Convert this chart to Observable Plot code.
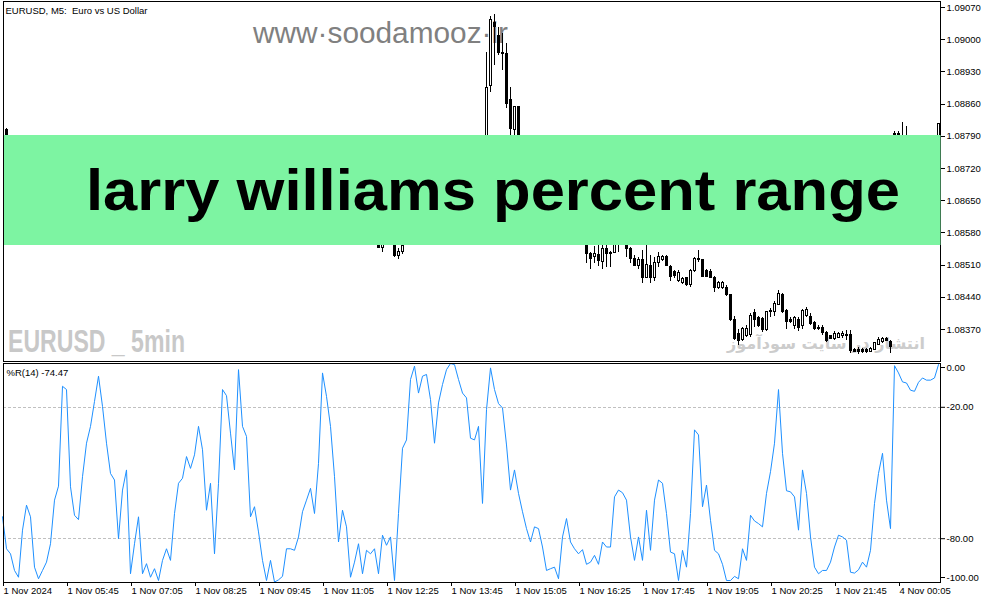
<!DOCTYPE html>
<html><head><meta charset="utf-8">
<script src="https://cdn.jsdelivr.net/npm/d3@7"></script>
<script src="https://cdn.jsdelivr.net/npm/@observablehq/plot@0.6"></script>
<style>
body{margin:0;background:#fff;}
#wrap{position:relative;width:994px;height:603px;overflow:hidden;background:#fff;font-family:"Liberation Sans",Arial,sans-serif;}
#wrap > *{position:absolute;left:0;}
</style></head><body><div id="wrap"></div>
<script>
// ---- data ----
const chartTitle = "EURUSD, M5:\u00a0 Euro vs US Dollar";
const indicatorTitle = "%R(14) -74.47";
const bannerText = "larry williams percent range";
const siteText = "www·soodamooz·ir";
const symbolText = "EURUSD _ 5min";
const persianText = "انتشار در سایت سودآموز";

const priceTicks = [1.09070,1.09000,1.08930,1.08860,1.08790,1.08720,1.08650,1.08580,1.08510,1.08440,1.08370];
const wprTicks = [0,-20,-80,-100];
const wprLevels = [-20,-80];
const timeTickBars = [0,16,32,48,64,80,96,112,128,144,160,176,192,208,224];
const timeTickLabels = ["1 Nov 2024","1 Nov 05:45","1 Nov 07:05","1 Nov 08:25","1 Nov 09:45","1 Nov 11:05","1 Nov 12:25","1 Nov 13:45","1 Nov 15:05","1 Nov 16:25","1 Nov 17:45","1 Nov 19:05","1 Nov 20:25","1 Nov 21:45","4 Nov 00:05"];

const candleBar   = [1,91,94,95,96,97,98,99,100,121,122,123,124,125,126,127,128,129,146,147,148,149,150,151,152,153,154,156,157,158,159,160,161,162,163,164,165,166,167,168,169,170,171,172,173,174,175,176,177,178,179,180,181,182,183,184,185,186,187,188,189,190,191,192,193,194,195,196,197,198,199,200,201,202,203,204,205,206,207,208,209,210,211,212,213,214,215,216,217,218,219,220,221,222,223,224,225,226,227,228,229,230,231,232,233,234];
const candleOpen  = [1.08803,1.08580,1.08565,1.08548,1.08570,1.08575,1.08570,1.08529,1.08539,1.08759,1.08900,1.09037,1.09009,1.08970,1.08968,1.08868,1.08803,1.08853,1.08565,1.08535,1.08527,1.08531,1.08516,1.08544,1.08537,1.08537,1.08565,1.08565,1.08544,1.08524,1.08509,1.08522,1.08483,1.08507,1.08481,1.08514,1.08522,1.08527,1.08505,1.08494,1.08476,1.08470,1.08481,1.08466,1.08498,1.08524,1.08520,1.08498,1.08496,1.08483,1.08461,1.08461,1.08461,1.08444,1.08390,1.08361,1.08348,1.08355,1.08357,1.08405,1.08394,1.08392,1.08368,1.08407,1.08407,1.08424,1.08444,1.08411,1.08391,1.08378,1.08391,1.08378,1.08400,1.08398,1.08385,1.08374,1.08374,1.08363,1.08355,1.08350,1.08352,1.08355,1.08357,1.08357,1.08326,1.08326,1.08326,1.08326,1.08322,1.08326,1.08337,1.08342,1.08350,1.08342,1.08792,1.08796,1.08782,1.08781,1.08776,1.08760,1.08757,1.08777,1.08788,1.08783,1.08783,1.08788];
const candleHigh  = [1.08808,1.08600,1.08580,1.08575,1.08585,1.08590,1.08580,1.08546,1.08560,1.08972,1.09050,1.09055,1.09027,1.09014,1.08992,1.08896,1.08855,1.08855,1.08575,1.08537,1.08550,1.08553,1.08560,1.08565,1.08540,1.08570,1.08580,1.08575,1.08548,1.08531,1.08527,1.08542,1.08555,1.08531,1.08527,1.08537,1.08531,1.08531,1.08509,1.08498,1.08498,1.08483,1.08483,1.08500,1.08527,1.08542,1.08522,1.08500,1.08500,1.08485,1.08474,1.08474,1.08465,1.08446,1.08398,1.08370,1.08374,1.08378,1.08405,1.08413,1.08398,1.08396,1.08409,1.08416,1.08431,1.08455,1.08448,1.08413,1.08396,1.08398,1.08396,1.08413,1.08418,1.08405,1.08387,1.08378,1.08378,1.08365,1.08357,1.08365,1.08363,1.08365,1.08368,1.08368,1.08328,1.08330,1.08328,1.08328,1.08330,1.08342,1.08352,1.08352,1.08352,1.08346,1.08800,1.08800,1.08821,1.08811,1.08785,1.08775,1.08785,1.08790,1.08791,1.08790,1.08791,1.08817];
const candleLow   = [1.08748,1.08552,1.08546,1.08537,1.08554,1.08554,1.08527,1.08522,1.08533,1.08748,1.08885,1.08944,1.08966,1.08933,1.08850,1.08781,1.08781,1.08748,1.08514,1.08500,1.08514,1.08507,1.08500,1.08505,1.08505,1.08535,1.08537,1.08527,1.08514,1.08507,1.08500,1.08470,1.08481,1.08470,1.08474,1.08505,1.08518,1.08507,1.08474,1.08481,1.08472,1.08467,1.08463,1.08461,1.08494,1.08516,1.08485,1.08483,1.08480,1.08450,1.08458,1.08457,1.08441,1.08387,1.08346,1.08335,1.08344,1.08352,1.08352,1.08374,1.08374,1.08363,1.08365,1.08396,1.08398,1.08422,1.08404,1.08370,1.08383,1.08370,1.08365,1.08370,1.08396,1.08378,1.08368,1.08368,1.08357,1.08341,1.08348,1.08346,1.08350,1.08350,1.08346,1.08318,1.08320,1.08315,1.08318,1.08318,1.08320,1.08324,1.08335,1.08340,1.08344,1.08318,1.08780,1.08775,1.08770,1.08770,1.08755,1.08750,1.08752,1.08770,1.08778,1.08775,1.08778,1.08785];
const candleClose = [1.08759,1.08570,1.08548,1.08560,1.08575,1.08580,1.08529,1.08539,1.08552,1.08896,1.09042,1.09027,1.08972,1.08968,1.08861,1.08805,1.08853,1.08759,1.08535,1.08524,1.08535,1.08518,1.08544,1.08535,1.08535,1.08560,1.08560,1.08544,1.08524,1.08509,1.08522,1.08483,1.08511,1.08483,1.08514,1.08527,1.08527,1.08509,1.08485,1.08487,1.08492,1.08479,1.08466,1.08498,1.08524,1.08522,1.08485,1.08485,1.08483,1.08461,1.08470,1.08470,1.08444,1.08390,1.08350,1.08346,1.08372,1.08372,1.08400,1.08390,1.08378,1.08368,1.08407,1.08411,1.08426,1.08448,1.08407,1.08387,1.08387,1.08394,1.08374,1.08411,1.08413,1.08381,1.08372,1.08372,1.08363,1.08346,1.08350,1.08361,1.08361,1.08361,1.08355,1.08324,1.08322,1.08322,1.08322,1.08322,1.08328,1.08340,1.08348,1.08350,1.08346,1.08331,1.08796,1.08782,1.08781,1.08776,1.08760,1.08757,1.08777,1.08788,1.08783,1.08783,1.08788,1.08816];

// Williams %R(14), one value per bar (bar index = position in array)
const wprValues = [
-70.0,-84.6,-86.9,-94.5,-97.6,-76.1,-64.7,-70.0,-93.0,-98.3,
-94.5,-90.7,-82.3,-62.4,-56.0,-10.4,-11.9,-56.3,-69.3,-71.3,
-51.7,-36.4,-28.7,-17.3,-5.8,-19.6,-36.4,-50.2,-53.2,-80.0,
-57.8,-48.6,-96.0,-82.3,-70.0,-96.0,-91.4,-97.6,-93.7,-99.1,
-89.9,-84.6,-89.9,-68.5,-54.7,-52.4,-42.5,-47.9,-41.7,-28.7,
-39.4,-67.0,-54.7,-86.9,-54.7,-11.9,-14.7,-31.8,-48.6,-2.8,
-28.7,-33.3,-70.0,-65.4,-76.9,-89.9,-99.1,-89.9,-99.8,-98.8,
-97.2,-84.6,-84.6,-85.3,-79.2,-67.7,-62.4,-57.0,-68.5,-45.6,
-4.3,-15.0,-28.7,-51.7,-81.5,-67.0,-74.6,-97.6,-90.7,-82.3,
-96.0,-85.3,-86.9,-84.6,-96.0,-78.4,-83.0,-79.2,-99.1,-68.5,
-38.7,-34.9,-7.3,-1.2,-13.5,-5.8,-5.0,-16.5,-36.4,-18.0,
-9.6,-2.8,0.0,-0.5,-7.3,-13.5,-15.7,-34.1,-34.9,-28.7,
-63.9,-21.1,-2.0,-11.9,-18.3,-20.3,-37.2,-57.8,-48.6,-59.3,
-67.7,-75.4,-81.5,-74.6,-75.4,-83.8,-94.5,-93.7,-93.0,-98.3,
-79.2,-70.8,-81.5,-84.6,-86.9,-85.0,-91.7,-90.7,-87.6,-91.7,
-81.5,-83.8,-83.8,-60.9,-57.8,-59.0,-62.4,-79.2,-89.9,-79.2,
-89.9,-67.0,-85.3,-62.4,-53.2,-54.7,-68.5,-86.1,-86.9,-99.1,
-85.3,-93.0,-68.5,-30.3,-32.6,-65.4,-55.5,-71.6,-85.3,-86.9,
-91.7,-99.1,-99.1,-97.2,-98.3,-84.6,-89.9,-69.3,-71.9,-73.1,
-74.6,-59.3,-49.4,-36.4,-11.9,-41.0,-58.1,-58.6,-60.9,-76.1,
-48.6,-59.3,-79.2,-93.0,-96.0,-94.5,-94.5,-90.7,-83.8,-78.4,
-79.2,-80.7,-95.3,-95.7,-94.2,-90.7,-93.0,-85.3,-63.9,-50.2,
-41.0,-62.4,-75.4,-1.0,-4.3,-8.4,-8.9,-12.2,-12.7,-8.6,
-6.6,-7.6,-7.6,-6.6,-0.5
];

// ---- build ----
const candles = candleBar.map((b,i)=>({bar:b, open:candleOpen[i], high:candleHigh[i], low:candleLow[i], close:candleClose[i]}));
const timeLabel = new Map(timeTickBars.map((b,i)=>[b,timeTickLabels[i]]));
const FONT = "Liberation Sans, Arial, sans-serif";
const wrap = document.getElementById("wrap");

// watermark layer (behind candles)
const wm = document.createElement("div");
wm.style.top = "0px";
wm.innerHTML = `<svg width="994" height="362" xmlns="http://www.w3.org/2000/svg">
<text x="253" y="43" font-family="Liberation Sans, Arial" font-size="30" fill="#808080" textLength="255" lengthAdjust="spacingAndGlyphs">${siteText}</text>
<text x="8" y="352" font-family="Liberation Sans Narrow, Liberation Sans, Arial" font-weight="bold" font-size="31" fill="#c8c8c8" textLength="177" lengthAdjust="spacingAndGlyphs">${symbolText}</text>
<text id="fa" x="826" y="349" text-anchor="middle" font-family="DejaVu Sans" font-weight="bold" font-size="21" fill="#cccccc">${persianText}</text>
</svg>`;
wrap.appendChild(wm);
// fit Persian watermark into its reference width (about 198 px)
{
  const fa = wm.querySelector("#fa");
  const len = fa.getComputedTextLength();
  if (len > 0) fa.setAttribute("font-size", (21 * 198 / len).toFixed(2));
}

const common = {width:994, marginLeft:3, marginRight:54,
  style:{background:"transparent", fontFamily:FONT, fontSize:"9.5px", color:"#000"}};

const price = Plot.plot({
  ...common, height:362, marginTop:1, marginBottom:1,
  x:{domain:[0.25,234.5], axis:null},
  y:{domain:[1.083004,1.090830], axis:null},
  marks:[
    Plot.ruleX(candles,{x:"bar", y1:"low", y2:"high", stroke:"#000", strokeWidth:1, shapeRendering:"crispEdges"}),
    Plot.rect(candles,{x1:d=>d.bar-0.25, x2:d=>d.bar+0.25, y1:"open", y2:"close",
      fill:d=>d.close>=d.open?"#ffffff":"#000000", stroke:"#000", strokeWidth:1, shapeRendering:"crispEdges"}),
    Plot.frame({stroke:"#000", shapeRendering:"crispEdges"}),
    Plot.axisY(priceTicks,{anchor:"right", tickSize:4, tickPadding:2, tickFormat:d=>d.toFixed(5), shapeRendering:"crispEdges"}),
    Plot.text([chartTitle],{frameAnchor:"top-left", dx:2, dy:5.5, lineAnchor:"top", textAnchor:"start", fill:"#000"})
  ]
});
price.style.position = "absolute"; price.style.top = "0px"; price.style.left = "0px";
wrap.appendChild(price);

// banner layer (on top of candles)
const banner = document.createElement("div");
banner.style.top = "0px";
banner.innerHTML = `<svg width="994" height="362" xmlns="http://www.w3.org/2000/svg">
<rect x="4" y="135" width="936.5" height="110" fill="#7df4a2"/>
<text x="86" y="210" font-family="Liberation Sans, Arial" font-weight="bold" font-size="58" fill="#000" textLength="814" lengthAdjust="spacingAndGlyphs">${bannerText}</text>
</svg>`;
wrap.appendChild(banner);

const ind = Plot.plot({
  ...common, height:241, marginTop:1, marginBottom:21,
  x:{domain:[0.25,234.5], axis:null},
  y:{domain:[-100,0], axis:null},
  marks:[
    Plot.ruleY(wprLevels,{stroke:"#c0c0c0", strokeDasharray:"3,2", shapeRendering:"crispEdges"}),
    Plot.line(wprValues,{x:(d,i)=>i, y:d=>d, stroke:"#1e90ff", strokeWidth:1}),
    Plot.frame({stroke:"#000", shapeRendering:"crispEdges"}),
    Plot.axisY(wprTicks.filter(v=>v!==0 && v!==-100),{anchor:"right", tickSize:4, tickPadding:2, tickFormat:d=>d.toFixed(2)}),
    Plot.axisY(wprTicks.filter(v=>v===0),{anchor:"right", tickSize:4, tickPadding:2, tickFormat:d=>d.toFixed(2), dy:4}),
    Plot.axisY(wprTicks.filter(v=>v===-100),{anchor:"right", tickSize:4, tickPadding:2, tickFormat:d=>d.toFixed(2), dy:-5}),
    Plot.axisX(timeTickBars,{anchor:"bottom", tickSize:4, tickPadding:1, tickFormat:d=>timeLabel.get(d), textAnchor:"start", dx:1}),
    Plot.text([indicatorTitle],{frameAnchor:"top-left", dx:3, dy:5.5, lineAnchor:"top", textAnchor:"start", fill:"#000"})
  ]
});
ind.style.position = "absolute"; ind.style.top = "362px"; ind.style.left = "0px";
wrap.appendChild(ind);
</script></body></html>
